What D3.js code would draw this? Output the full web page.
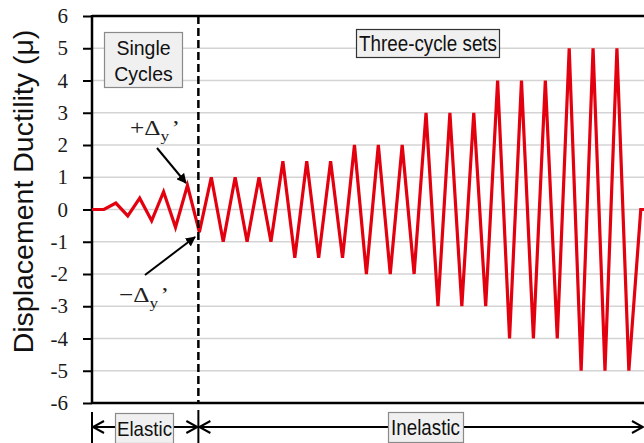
<!DOCTYPE html>
<html><head><meta charset="utf-8">
<script src="https://cdn.jsdelivr.net/npm/d3@7/dist/d3.min.js"></script>
<style>body{margin:0;background:#fff}svg{display:block}</style>
</head><body>
<svg id="chart" width="644" height="443"></svg>
<script>
// ---- data ----
const steps = d3.range(0, 48);
const ductility = [0, 0, 0.2, -0.2, 0.35, -0.35, 0.55, -0.55, 0.75, -0.7,
  1, -1, 1, -1, 1, -1,
  1.5, -1.5, 1.5, -1.5, 1.5, -1.5,
  2, -2, 2, -2, 2, -2,
  3, -3, 3, -3, 3, -3,
  4, -4, 4, -4, 4, -4,
  5, -5, 5, -5, 5, -5,
  0, 0];
const yTicks = [6, 5, 4, 3, 2, 1, 0, -1, -2, -3, -4, -5, -6];
const yTickLabels = ["6", "5", "4", "3", "2", "1", "0", "-1", "-2", "-3", "-4", "-5", "-6"];
const elasticEndStep = 9;
const yTitle = "Displacement Ductility (\u03bc)";
const boxSingle = ["Single", "Cycles"];
const boxThree = "Three-cycle sets";
const rangeLabels = ["Elastic", "Inelastic"];

// ---- layout ----
const svg = d3.select("#chart");
const L = 92, T = 16, B = 403, stepPx = 11.93;
const x = d3.scaleLinear().domain([0, 47]).range([L, L + 47 * stepPx]);
const y = d3.scaleLinear().domain([-6, 6]).range([B, T]);
const RIGHT = 660;
const sans = "'Liberation Sans',Arial,sans-serif";
const serif = "'Liberation Serif','Times New Roman',serif";

// gridlines
svg.append("g").selectAll("line").data(yTicks.filter(v => v > -6 && v < 6)).join("line")
  .attr("x1", L).attr("x2", RIGHT).attr("y1", d => y(d)).attr("y2", d => y(d))
  .attr("stroke", "#d4d4d4").attr("stroke-width", 1.5);

// y axis
const yAxis = d3.axisLeft(y).tickValues(yTicks).tickSize(9).tickPadding(15)
  .tickFormat((d, i) => yTickLabels[i]);
const ga = svg.append("g").attr("transform", `translate(${L},0)`).call(yAxis);
ga.select(".domain").remove();
ga.selectAll(".tick line").attr("stroke", "#000").attr("stroke-width", 2);
ga.selectAll(".tick text").style("font-family", serif)
  .style("font-size", "21px").attr("fill", "#1a1a1a");

// frame
svg.append("line").attr("x1", L).attr("x2", L).attr("y1", T - 1).attr("y2", B + 1)
  .attr("stroke", "#000").attr("stroke-width", 2.5);
svg.append("line").attr("x1", L).attr("x2", RIGHT).attr("y1", T).attr("y2", T)
  .attr("stroke", "#000").attr("stroke-width", 2.5);
svg.append("line").attr("x1", L).attr("x2", RIGHT).attr("y1", B).attr("y2", B)
  .attr("stroke", "#000").attr("stroke-width", 2.5);

// title
svg.append("text").attr("transform", `translate(33,${(T + B) / 2 - 18}) rotate(-90)`)
  .attr("text-anchor", "middle").style("font-family", sans)
  .style("font-size", "28.5px").attr("fill", "#111").text(yTitle);

// data line
svg.append("defs").append("clipPath").attr("id", "clip").append("rect")
  .attr("x", L).attr("y", T - 5).attr("width", RIGHT - L).attr("height", B - T + 10);
const line = d3.line().x((d, i) => x(steps[i])).y(d => y(d));
svg.append("path").datum(ductility).attr("d", line).attr("clip-path", "url(#clip)")
  .attr("fill", "none").attr("stroke", "#e3000f").attr("stroke-width", 3.2);

// dashed divider
const xd = x(elasticEndStep) - 1;
svg.append("line").attr("x1", xd).attr("x2", xd).attr("y1", T).attr("y2", B)
  .attr("stroke", "#000").attr("stroke-width", 2.5).attr("stroke-dasharray", "8,4");

// boxes
function box(x0, y0, w, h, stroke) {
  svg.append("rect").attr("x", x0).attr("y", y0).attr("width", w).attr("height", h)
    .attr("fill", "#f0f0f0").attr("stroke", stroke).attr("stroke-width", 1.2);
}
box(104.5, 32.5, 78, 55, "#8a8a8a");
svg.append("text").attr("x", 143.5).attr("y", 55).attr("text-anchor", "middle")
  .style("font-family", sans).style("font-size", "19.5px").attr("fill", "#111").text(boxSingle[0]);
svg.append("text").attr("x", 143.5).attr("y", 81).attr("text-anchor", "middle")
  .style("font-family", sans).style("font-size", "19.5px").attr("fill", "#111").text(boxSingle[1]);

box(356.5, 29.5, 143, 28, "#333");
svg.append("text").attr("x", 359).attr("y", 51).style("font-family", sans)
  .style("font-size", "22px").attr("textLength", 138).attr("lengthAdjust", "spacingAndGlyphs")
  .attr("fill", "#111").text(boxThree);

// delta labels
function deltaLabel(x0, yb, sign) {
  const t = svg.append("text").attr("transform", `translate(${x0},${yb}) scale(1.15,1)`)
    .style("font-family", serif).style("font-size", "22px").attr("fill", "#222");
  t.append("tspan").text(sign + "\u0394");
  t.append("tspan").style("font-size", "15px").attr("dy", 6).text("y");
  t.append("tspan").attr("dy", -6).attr("dx", 2).text("\u2019");
}
deltaLabel(130, 135, "+");
deltaLabel(119, 302, "\u2212");

// arrows
const defs = svg.select("defs");
defs.append("marker").attr("id", "ah").attr("viewBox", "0 0 10 10").attr("refX", 9).attr("refY", 5)
  .attr("markerWidth", 5).attr("markerHeight", 5).attr("orient", "auto")
  .append("path").attr("d", "M0,0 L10,5 L0,10 z").attr("fill", "#000");
svg.append("line").attr("x1", 157).attr("y1", 148).attr("x2", 186).attr("y2", 183)
  .attr("stroke", "#000").attr("stroke-width", 2).attr("marker-end", "url(#ah)");
svg.append("line").attr("x1", 145).attr("y1", 275).attr("x2", 195).attr("y2", 237)
  .attr("stroke", "#000").attr("stroke-width", 2).attr("marker-end", "url(#ah)");

// range dimension lines
const yDim = 427;
const xE0 = L, xE1 = xd, xI1 = 643;
svg.append("line").attr("x1", xE0).attr("x2", xE0).attr("y1", 412).attr("y2", 443)
  .attr("stroke", "#000").attr("stroke-width", 2);
svg.append("line").attr("x1", xE1).attr("x2", xE1).attr("y1", 410).attr("y2", 443)
  .attr("stroke", "#000").attr("stroke-width", 2);
svg.append("line").attr("x1", xE0).attr("x2", xI1).attr("y1", yDim).attr("y2", yDim)
  .attr("stroke", "#000").attr("stroke-width", 2);
function chevron(tipX, dir) {
  svg.append("path").attr("d", `M${tipX - dir * 11},${yDim - 6} L${tipX},${yDim} L${tipX - dir * 11},${yDim + 6}`)
    .attr("fill", "none").attr("stroke", "#000").attr("stroke-width", 2);
}
chevron(xE0 + 1, -1);
chevron(xE1 - 1, 1);
chevron(xE1 + 1, -1);
chevron(xI1, 1);

box(115.5, 413.5, 58, 30, "#8a8a8a");
svg.append("text").attr("x", 117).attr("y", 436).style("font-family", sans)
  .style("font-size", "21px").attr("textLength", 55).attr("lengthAdjust", "spacingAndGlyphs")
  .attr("fill", "#111").text(rangeLabels[0]);
box(388.5, 412.5, 75, 30, "#8a8a8a");
svg.append("text").attr("x", 391).attr("y", 435).style("font-family", sans)
  .style("font-size", "22px").attr("textLength", 69).attr("lengthAdjust", "spacingAndGlyphs")
  .attr("fill", "#111").text(rangeLabels[1]);
</script>
</body></html>
